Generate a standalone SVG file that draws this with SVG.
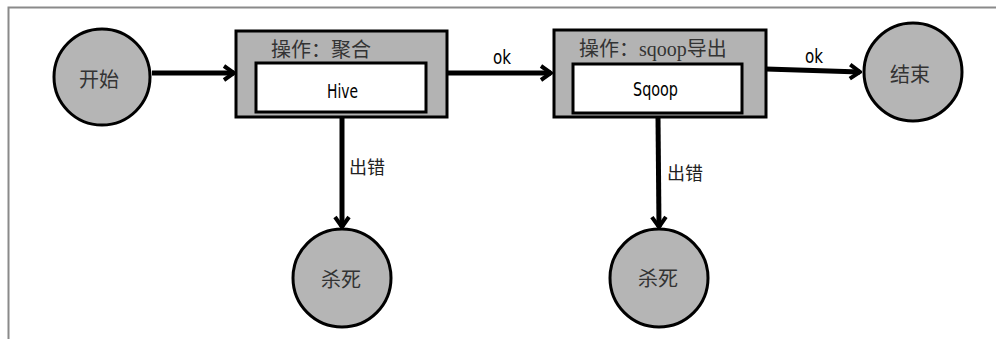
<svg xmlns="http://www.w3.org/2000/svg" width="996" height="339" viewBox="0 0 996 339">
<style>
.frame{stroke:#8a8a8a;stroke-width:2;fill:none}
.circ{fill:#b5b5b5;stroke:#000;stroke-width:3}
.box{fill:#b3b3b3;stroke:#000;stroke-width:3}
.inner{fill:#fff;stroke:#000;stroke-width:3}
.edge{stroke:#000;stroke-width:5;fill:none}
.cn{font-family:"Noto Sans CJK SC",sans-serif;font-size:20px;fill:#333;text-anchor:middle}
.ttl{font-family:"Liberation Serif","Noto Sans CJK SC",serif;font-size:20px;fill:#333}
.lat{font-family:"DejaVu Sans Condensed","Liberation Sans",sans-serif;font-size:20px;fill:#000}
.lbl{font-family:"Noto Sans CJK SC",sans-serif;font-size:18px;fill:#222}
</style>
<defs>
<marker id="arr" markerUnits="userSpaceOnUse" viewBox="0 0 14 18" refX="12" refY="9" markerWidth="14" markerHeight="18" orient="auto">
<path d="M2,2 L12,9 L2,16" fill="none" stroke="#000" stroke-width="4" stroke-linejoin="miter"/>
</marker>
</defs>
<path class="frame" d="M8.5,339 V7.5 H996"/>
<g id="connectors">
<line class="edge" x1="152" y1="73" x2="234" y2="73" marker-end="url(#arr)"/>
<line class="edge" x1="447" y1="73" x2="551" y2="73" marker-end="url(#arr)"/>
<line class="edge" x1="766" y1="69" x2="860" y2="72" marker-end="url(#arr)"/>
<line class="edge" x1="342" y1="117" x2="342" y2="227" marker-end="url(#arr)"/>
<line class="edge" x1="658" y1="117" x2="659" y2="227" marker-end="url(#arr)"/>
<text class="lat" x="493" y="64" textLength="18" lengthAdjust="spacingAndGlyphs">ok</text>
<text class="lat" x="805" y="63" textLength="18" lengthAdjust="spacingAndGlyphs">ok</text>
<text class="lbl" x="349" y="174">出错</text>
<text class="lbl" x="667" y="180">出错</text>
</g>
<g id="start">
<circle class="circ" cx="102" cy="77" r="48"/>
<text class="cn" x="99" y="87">开始</text>
</g>
<g id="hive">
<rect class="box" x="236" y="31" width="211" height="86"/>
<rect class="inner" x="256" y="63" width="170" height="49"/>
<text class="ttl" x="271" y="57">操作：聚合</text>
<text class="lat" x="327" y="98" textLength="31" lengthAdjust="spacingAndGlyphs">Hive</text>
</g>
<g id="sqoop">
<rect class="box" x="554" y="30" width="212" height="87"/>
<rect class="inner" x="573" y="64" width="169" height="49"/>
<text class="ttl" x="579" y="56">操作：sqoop导出</text>
<text class="lat" x="633" y="96" textLength="45" lengthAdjust="spacingAndGlyphs">Sqoop</text>
</g>
<g id="end">
<circle class="circ" cx="913" cy="72" r="49"/>
<text class="cn" x="910" y="82">结束</text>
</g>
<g id="kill1">
<circle class="circ" cx="342" cy="278" r="49"/>
<text class="cn" x="341" y="287">杀死</text>
</g>
<g id="kill2">
<circle class="circ" cx="659" cy="278" r="49"/>
<text class="cn" x="658" y="286">杀死</text>
</g>
</svg>
